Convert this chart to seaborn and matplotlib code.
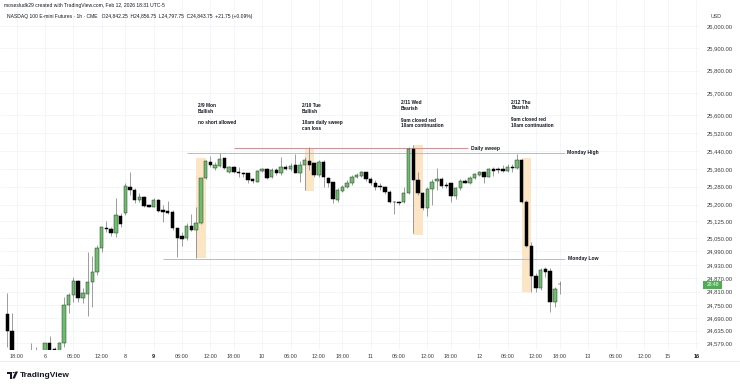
import numpy as np
import pandas as pd
import matplotlib
matplotlib.use("Agg")
import matplotlib.pyplot as plt
import seaborn as sns
from matplotlib.patches import Rectangle, Polygon, Circle

sns.set_theme(style="white")
plt.rcParams['font.family'] = ['Liberation Sans', 'DejaVu Sans']

# ---------------- data (1h bars, index = bar number on TradingView's gapless time scale) ----
bar_index = list(range(118))
opens = [24710, 24635, 24505, 24470, 24490, 24500, 24520, 24510, 24535, 24578,
         24552, 24545, 24578, 24750, 24795, 24857, 24783, 24800, 24852, 24899,
         25004, 25096, 25089, 25074, 25150, 25161, 25280, 25265, 25220, 25233,
         25197, 25190, 25220, 25176, 25170, 25168, 25094, 25059, 25049, 25104,
         25086, 25116, 25318, 25392, 25362, 25373, 25407, 25345, 25367, 25347,
         25340, 25340, 25313, 25302, 25352, 25358, 25322, 25355, 25340, 25367,
         25359, 25377, 25343, 25377, 25397, 25385, 25332, 25392, 25318, 25300,
         25220, 25262, 25277, 25295, 25322, 25329, 25345, 25313, 25295, 25285,
         25277, 25258, 25213, 25211, 25213, 25250, 25449, 25310, 25250, 25183,
         25268, 25307, 25313, 25288, 25295, 25238, 25273, 25307, 25298, 25318,
         25332, 25345, 25325, 25358, 25359, 25359, 25352, 25370, 25362, 25400,
         25213, 25014, 24880, 24825, 24910, 24902, 24765, 24842.25]
highs = [24805, 24713, 24540, 24530, 24535, 24580, 24562, 24545, 24582, 24611,
         24560, 24586, 24787, 24802, 24874, 24862, 24825, 24989, 24970, 25019,
         25101, 25128, 25101, 25228, 25164, 25298, 25347, 25273, 25253, 25238,
         25198, 25228, 25224, 25198, 25216, 25176, 25094, 25078, 25116, 25158,
         25190, 25320, 25400, 25419, 25392, 25432, 25407, 25373, 25373, 25370,
         25347, 25340, 25318, 25355, 25362, 25362, 25362, 25362, 25414, 25377,
         25385, 25427, 25397, 25414, 25457, 25392, 25400, 25400, 25322, 25302,
         25273, 25288, 25310, 25332, 25340, 25352, 25347, 25325, 25310, 25295,
         25283, 25265, 25217, 25215, 25280, 25459, 25467, 25347, 25255, 25280,
         25313, 25362, 25322, 25302, 25298, 25277, 25313, 25313, 25328, 25343,
         25352, 25352, 25362, 25370, 25370, 25377, 25382, 25382, 25425, 25404,
         25220, 25034, 24895, 24914, 24922, 24914, 24832, 24856.75]
lows = [24563, 24490, 24450, 24440, 24460, 24480, 24490, 24495, 24520, 24530,
        24535, 24535, 24563, 24713, 24765, 24765, 24760, 24702, 24742, 24884,
        24989, 25078, 25059, 25056, 25101, 25153, 25243, 25206, 25213, 25190,
        25188, 25188, 25165, 25123, 25156, 25086, 24966, 25014, 25041, 25083,
        24959, 25113, 25313, 25367, 25355, 25370, 25358, 25340, 25340, 25325,
        25325, 25295, 25295, 25300, 25347, 25315, 25318, 25332, 25332, 25355,
        25352, 25340, 25302, 25265, 25355, 25325, 25325, 25280, 25280, 25206,
        25213, 25258, 25273, 25288, 25318, 25325, 25307, 25288, 25265, 25265,
        25247, 25206, 25158, 25200, 25208, 25247, 25071, 25243, 25176, 25149,
        25198, 25265, 25273, 25273, 25213, 25224, 25265, 25295, 25292, 25313,
        25328, 25298, 25322, 25328, 25340, 25347, 25347, 25347, 25358, 25208,
        25011, 24810, 24810, 24817, 24877, 24720, 24742, 24797.75]
closes = [24635, 24505, 24470, 24490, 24500, 24520, 24510, 24530, 24578, 24545,
          24549, 24580, 24750, 24795, 24857, 24783, 24802, 24852, 24899, 25004,
          25098, 25089, 25074, 25153, 25112, 25283, 25265, 25220, 25233, 25194,
          25190, 25220, 25171, 25168, 25164, 25094, 25049, 25047, 25104, 25086,
          25116, 25318, 25397, 25377, 25377, 25404, 25362, 25367, 25347, 25340,
          25336, 25310, 25306, 25350, 25359, 25318, 25355, 25340, 25370, 25359,
          25374, 25343, 25377, 25400, 25377, 25332, 25392, 25322, 25298, 25224,
          25265, 25280, 25298, 25322, 25332, 25345, 25313, 25295, 25280, 25277,
          25255, 25210, 25210, 25208, 25250, 25449, 25310, 25250, 25183, 25268,
          25302, 25313, 25283, 25283, 25238, 25273, 25307, 25298, 25318, 25336,
          25345, 25325, 25358, 25352, 25355, 25352, 25370, 25362, 25400, 25213,
          25014, 24880, 24825, 24907, 24899, 24765, 24822, 24843.75]

time_tick_pos = [2, 8, 14, 20, 25, 31, 37, 43, 48, 54, 60, 66, 71, 77, 83, 89,
                 94, 100, 106, 112, 117, 123, 129, 135, 140, 146]
time_tick_labels = ["18:00", "6", "06:00", "12:00", "8", "9", "06:00", "12:00",
                    "18:00", "10", "06:00", "12:00", "18:00", "11", "06:00",
                    "12:00", "18:00", "12", "06:00", "12:00", "18:00", "13",
                    "06:00", "12:00", "15", "16"]
bold_time_labels = ["9", "16"]

price_ticks = [26000, 25900, 25800, 25700, 25600, 25520, 25440, 25360, 25280,
               25200, 25125, 25050, 24990, 24930, 24870, 24810, 24750, 24690,
               24635, 24579]

monday_high = 25433
monday_low = 24958
daily_sweep = 25452

# highlighted sessions: (start bar, end bar, low price, high price)
hl_start = [40, 63, 86, 109]
hl_end = [42, 65, 88, 111]
hl_low = [24961, 25261, 25064, 24808]
hl_high = [25409, 25453, 25467, 25409]

notes = ["2/9 Mon\nBullish\n\nno short allowed",
         "2/10 Tue\nBullish\n\n10am daily sweep\ncan loss",
         "2/11 Wed\nBearish\n\n9am closed red\n10am continuation",
         "2/12 Thu\nBearish\n\n9am closed red\n10am continuation"]
note_x = [40.3, 62.4, 83.4, 106.8]
note_y = [25655, 25655, 25668, 25670]

# ---------------- figure ----------------
W, H = 740, 386
fig = plt.figure(figsize=(W / 100, H / 100), dpi=100)
fig.patch.set_facecolor("white")
ax = fig.add_axes([0, 36 / H, 700 / W, 350 / H])
ax.set_facecolor("white")
ax.set_xlim(-1.55, 146.76)
ax.set_ylim(24548.5, 26116.5)

grid_c = "#f3f4f7"
ax.vlines(time_tick_pos, 24548.5, 26116.5, color=grid_c, lw=0.6, zorder=0)
ax.hlines(price_ticks, -1.55, 146.76, color=grid_c, lw=0.6, zorder=0)

# highlight boxes
for s, e, lo, hi in zip(hl_start, hl_end, hl_low, hl_high):
    ax.add_patch(Rectangle((s, lo), e - s, hi - lo, facecolor="#fce5c4",
                           edgecolor="none", zorder=1))

# level lines
ax.hlines(monday_high, 38.1, 118.2, color="#b8bbc4", lw=0.7, zorder=1.5)
ax.hlines(monday_low, 33.0, 118.2, color="#b8bbc4", lw=0.7, zorder=1.5)
ax.hlines(daily_sweep, 48.0, 97.6, color="#f0828b", lw=0.7, zorder=1.5)
lab_kw = dict(fontsize=3.6, fontweight="bold", color="#131722", va="center", ha="left")
ax.text(98.2, daily_sweep, "Daily sweep", **lab_kw)
ax.text(118.5, monday_high, "Monday High", **lab_kw)
ax.text(118.8, monday_low, "Monday Low", **lab_kw)

# candles
df = pd.DataFrame({"k": bar_index, "o": opens, "h": highs, "l": lows, "c": closes})
df["up"] = df["c"] >= df["o"]
ax.vlines(df["k"], df["l"], df["h"], color="#8a8d94", lw=0.6, zorder=2)
bottoms = np.minimum(df["o"], df["c"])
heights = np.maximum(np.abs(df["c"] - df["o"]), 2.5)
faces = np.where(df["up"], "#6dbd6c", "#000000")
edges = np.where(df["up"], "#2b3a2b", "#000000")
ax.bar(df["k"], heights, bottom=bottoms, width=0.72, color=faces,
       edgecolor=edges, linewidth=0.35, zorder=3)

# notes
for x, y, t in zip(note_x, note_y, notes):
    ax.text(x, y, t, fontsize=3.4, fontweight="bold", color="#131722",
            va="top", ha="left", linespacing=1.2, zorder=5)

# axes styling
for sp in ax.spines.values():
    sp.set_visible(False)
ax.yaxis.tick_right()
ax.set_yticks(price_ticks)
ax.set_yticklabels([f"{v:,.2f}" for v in price_ticks])
ax.tick_params(axis="y", length=0, pad=5, labelsize=4.2, labelcolor="#3b3e45")
ax.set_xticks(time_tick_pos)
ax.set_xticklabels(time_tick_labels)
ax.tick_params(axis="x", length=0, pad=2.6, labelsize=4.0, labelcolor="#3b3e45")
for tl in ax.get_xticklabels():
    if tl.get_text() in bold_time_labels:
        tl.set_fontweight("bold")
        tl.set_color("#131722")

# header
fig.text(4 / W, 1 - 5.8 / H,
         "mosesludk29 created with TradingView.com, Feb 12, 2026 18:31 UTC-5",
         fontsize=3.6, color="#131722", va="center", ha="left")
fig.text(7 / W, 1 - 16.5 / H,
         "NASDAQ 100 E-mini Futures \u00b7 1h \u00b7 CME   O24,842.25  H24,856.75  "
         "L24,797.75  C24,843.75  +21.75 (+0.09%)",
         fontsize=3.6, color="#131722", va="center", ha="left")
fig.text(711 / W, 1 - 16.5 / H, "USD", fontsize=3.8, color="#3b3e45",
         va="center", ha="left")

# last price box
fig.patches.append(Rectangle((703 / W, 1 - 289 / H), 19 / W, 8.5 / H,
                             transform=fig.transFigure, facecolor="#4caf50",
                             edgecolor="none"))
fig.text(712.5 / W, 1 - 284.8 / H, "28:48", fontsize=3.6, color="white",
         va="center", ha="center")

# bottom separator
fig.lines.append(plt.Line2D([0, 1], [1 - 361 / H, 1 - 361 / H],
                            transform=fig.transFigure, color="#e6e8ee", lw=0.6))

# TradingView logo
def fx(px):
    return px / W

def fy(py):
    return 1 - py / H

fig.patches.append(Polygon([(fx(7), fy(371.5)), (fx(12.2), fy(371.5)),
                            (fx(12.2), fy(378.5)), (fx(10.2), fy(378.5)),
                            (fx(10.2), fy(373.5)), (fx(7), fy(373.5))],
                           closed=True, transform=fig.transFigure,
                           facecolor="#131722", edgecolor="none"))
fig.patches.append(Circle((fx(13.6), fy(372.6)), 1.1 / W,
                          transform=fig.transFigure, facecolor="#131722",
                          edgecolor="none"))
fig.patches.append(Polygon([(fx(15.5), fy(371.5)), (fx(18), fy(371.5)),
                            (fx(14.8), fy(378.5)), (fx(12.4), fy(378.5))],
                           closed=True, transform=fig.transFigure,
                           facecolor="#131722", edgecolor="none"))
fig.text(20 / W, 1 - 375.2 / H, "TradingView", fontsize=6.0, fontweight="bold",
         color="#131722", va="center", ha="left")

fig.savefig("out.png", dpi=100, facecolor="white")
